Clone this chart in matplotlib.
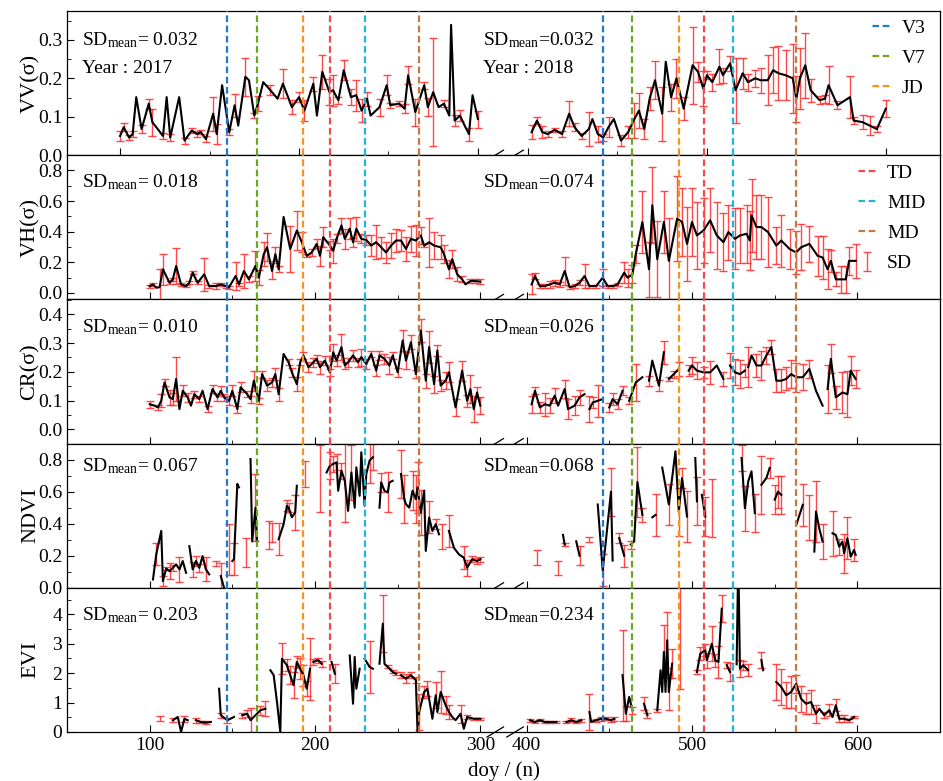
import numpy as np
import matplotlib.pyplot as plt
from matplotlib.lines import Line2D
from matplotlib.transforms import blended_transform_factory

nan = np.nan

# ---------------- data: day of year, mean value, SD (nan = missing) ----------------
# VV
vv17_doy = [100, 102, 105, 107, 109, 112, 116, 118, 124, 126, 128, 133, 136, 140, 143, 145, 148, 152, 154, 157,
            161, 164, 166, 170, 172, 175, 177, 180, 184, 188, 191, 196, 200, 203, 208, 210, 213, 217, 219, 222,
            225, 229, 232, 235, 238, 240, 245, 249, 251, 256, 259, 261, 265, 270, 272, 275, 278, 281, 284, 285,
            287, 290, 293, 295, 297, 300]
vv17_val = [0.050, 0.073, 0.046, 0.055, 0.151, 0.068, 0.134, 0.086, 0.050, 0.151, 0.046, 0.151, 0.038, 0.064, 0.055,
            0.060, 0.042, 0.108, 0.055, 0.182, 0.060, 0.130, 0.077, 0.204, 0.195, 0.103, 0.134, 0.190, 0.169, 0.147,
            0.186, 0.125, 0.151, 0.116, 0.186, 0.103, 0.217, 0.164, 0.169, 0.143, 0.221, 0.151, 0.156, 0.116, 0.147,
            0.103, 0.125, 0.182, 0.130, 0.134, 0.121, 0.208, 0.112, 0.182, 0.125, 0.164, 0.125, 0.134, 0.103, 0.339,
            0.090, 0.103, 0.073, 0.055, 0.156, 0.094]
vv17_sd = [0.013, 0.010, 0.007, 0.007, nan, 0.011, 0.013, 0.035, 0.008, nan, 0.010, nan, 0.008, 0.006, 0.008,
           0.006, 0.008, 0.044, 0.027, nan, 0.007, 0.030, nan, 0.050, nan, 0.006, 0.020, nan, 0.013, nan,
           0.037, 0.018, 0.013, 0.028, 0.018, nan, 0.044, 0.033, 0.040, 0.009, 0.026, 0.020, 0.040, 0.030, 0.018,
           nan, 0.022, 0.026, 0.007, 0.007, 0.011, 0.024, 0.035, 0.009, 0.024, 0.140, nan, 0.009, nan, nan,
           0.015, 0.015, nan, 0.017, nan, 0.022]

vv18_doy = [402, 405, 408, 411, 415, 419, 423, 426, 430, 434, 436, 439, 442, 445, 448, 452, 456, 459, 462, 465,
            468, 471, 475, 477, 480, 483, 487, 492, 495, 498, 500, 503, 507, 509, 513, 516, 520, 523, 527, 530,
            534, 537, 540, 544, 548, 550, 552, 555, 558, 563, 566, 568, 573, 580, 582, 587, 591, 595, 600]
vv18_val = [0.060, 0.090, 0.060, 0.055, 0.066, 0.055, 0.108, 0.073, 0.050, 0.068, 0.094, 0.055, 0.046, 0.073, 0.094,
            0.038, 0.060, 0.090, 0.116, 0.068, 0.147, 0.195, 0.108, 0.243, 0.151, 0.200, 0.121, 0.234, 0.217, 0.173,
            0.208, 0.190, 0.230, 0.208, 0.239, 0.169, 0.213, 0.190, 0.200, 0.195, 0.195, 0.221, 0.213, 0.208, 0.200,
            0.147, 0.200, 0.234, 0.169, 0.143, 0.147, 0.182, 0.130, 0.151, 0.090, 0.086, 0.077, 0.068, 0.121]
vv18_sd = [0.018, 0.010, 0.015, 0.008, 0.006, 0.008, 0.033, 0.010, 0.007, 0.045, nan, 0.020, 0.008, 0.026, nan,
           0.015, 0.015, 0.045, 0.045, 0.026, 0.030, 0.050, 0.070, nan, 0.035, 0.050, 0.030, 0.100, 0.026, 0.045,
           0.010, 0.022, 0.045, 0.020, 0.020, 0.085, 0.040, 0.022, 0.022, 0.033, 0.065, 0.060, 0.070, 0.065, 0.090,
           0.060, 0.080, 0.085, 0.030, 0.010, 0.010, 0.050, 0.010, 0.055, 0.010, 0.018, 0.024, 0.008, 0.022]

# VH
vh17_doy = [100, 102, 104, 106, 108, 112, 114, 116, 119, 122, 124, 126, 129, 133, 136, 140, 143, 146, 148, 152,
            154, 157, 160, 164, 166, 169, 171, 174, 176, 178, 181, 185, 189, 192, 195, 198, 201, 203, 205, 209,
            211, 213, 216, 218, 221, 223, 225, 228, 231, 234, 237, 240, 243, 246, 249, 252, 255, 258, 261, 264,
            266, 269, 272, 276, 278, 281, 283, 286, 289, 291, 294, 297, 300]
vh17_val = [0.044, 0.055, 0.033, 0.037, 0.154, 0.066, 0.088, 0.176, 0.055, 0.044, 0.066, 0.132, 0.066, 0.121, 0.044,
            0.044, 0.055, 0.044, 0.037, 0.110, 0.055, 0.143, 0.088, 0.176, 0.099, 0.253, 0.298, 0.143, 0.253, 0.154,
            0.496, 0.287, 0.408, 0.331, 0.242, 0.264, 0.320, 0.242, 0.364, 0.309, 0.275, 0.353, 0.441, 0.353, 0.419,
            0.331, 0.419, 0.353, 0.346, 0.309, 0.331, 0.298, 0.264, 0.309, 0.342, 0.342, 0.287, 0.353, 0.342, 0.375,
            0.309, 0.331, 0.309, 0.298, 0.253, 0.154, 0.220, 0.121, 0.088, 0.055, 0.077, 0.077, 0.073]
vh17_sd = [0.010, 0.008, nan, 0.120, 0.100, 0.010, 0.012, 0.120, 0.010, 0.008, 0.010, 0.010, 0.010, 0.110, 0.010,
           0.020, 0.010, 0.010, 0.010, 0.090, 0.010, 0.110, 0.020, 0.100, 0.050, 0.080, 0.090, 0.050, 0.045, 0.020,
           nan, 0.150, 0.130, 0.065, 0.010, 0.020, 0.030, 0.065, 0.065, 0.030, 0.080, 0.030, 0.050, 0.065, 0.070,
           0.030, 0.080, 0.030, 0.030, 0.070, 0.110, 0.070, 0.070, 0.080, 0.075, 0.070, 0.080, 0.085, 0.100, 0.055,
           0.010, 0.160, 0.090, 0.080, 0.060, 0.060, 0.060, 0.045, 0.020, nan, 0.015, 0.015, 0.015]

vh18_doy = [403, 405, 408, 411, 414, 417, 420, 423, 426, 429, 432, 435, 438, 442, 446, 449, 452, 455, 459, 461,
            464, 466, 470, 474, 476, 479, 483, 486, 491, 494, 497, 500, 503, 507, 511, 515, 519, 522, 526, 529,
            533, 535, 536, 539, 542, 546, 551, 554, 559, 563, 566, 571, 576, 579, 582, 584, 587, 590, 593, 595, 599]
vh18_val = [0.055, 0.110, 0.044, 0.044, 0.055, 0.066, 0.055, 0.143, 0.037, 0.044, 0.066, 0.110, 0.044, 0.044, 0.099,
            0.044, 0.044, 0.055, 0.132, 0.099, 0.121, 0.253, 0.463, 0.154, 0.573, 0.220, 0.463, 0.209, 0.485, 0.463,
            0.320, 0.463, 0.375, 0.408, 0.474, 0.375, 0.331, 0.397, 0.353, 0.375, 0.386, 0.342, 0.507, 0.430, 0.430,
            0.397, 0.309, 0.342, 0.287, 0.264, 0.298, 0.320, 0.242, 0.231, 0.154, 0.209, 0.088, 0.088, 0.088, 0.209,
            0.209]
vh18_sd = [0.065, 0.020, 0.015, 0.015, 0.025, 0.020, 0.015, 0.090, 0.010, 0.015, 0.015, 0.080, 0.010, 0.010, 0.055,
           0.010, 0.010, 0.010, 0.070, 0.060, 0.060, 0.060, 0.200, 0.180, 0.250, 0.250, 0.200, 0.280, 0.280, 0.220,
           0.240, 0.220, 0.220, 0.210, 0.210, 0.220, 0.190, 0.180, 0.200, 0.180, 0.190, 0.190, 0.240, 0.210, 0.210,
           0.230, 0.120, 0.170, 0.130, 0.140, 0.150, 0.120, 0.130, 0.140, 0.130, 0.070, 0.045, 0.090, 0.090, 0.090,
           0.110]

# CR
cr17_doy = [100, 103, 105, 107, 109, 112, 114, 116, 118, 120, 123, 125, 127, 130, 132, 135, 138, 141, 143, 145,
            148, 150, 153, 155, 159, 161, 163, 166, 168, 171, 174, 176, 178, 181, 184, 186, 189, 191, 193, 196,
            199, 201, 203, 206, 209, 211, 213, 216, 218, 220, 223, 226, 228, 231, 234, 237, 239, 242, 245, 247,
            250, 253, 255, 258, 261, 264, 267, 269, 272, 274, 276, 279, 281, 285, 289, 292, 294, 296, 298, 300]
cr17_val = [0.087, 0.082, 0.076, 0.099, 0.163, 0.111, 0.105, 0.175, 0.070, 0.134, 0.111, 0.082, 0.122, 0.105, 0.134,
            0.070, 0.140, 0.111, 0.134, 0.111, 0.099, 0.134, 0.070, 0.146, 0.122, 0.105, 0.169, 0.099, 0.192, 0.152,
            0.163, 0.192, 0.122, 0.262, 0.233, 0.198, 0.157, 0.233, 0.257, 0.216, 0.233, 0.245, 0.216, 0.239, 0.198,
            0.268, 0.239, 0.286, 0.222, 0.233, 0.257, 0.233, 0.251, 0.227, 0.262, 0.204, 0.257, 0.245, 0.222, 0.257,
            0.198, 0.309, 0.239, 0.303, 0.192, 0.344, 0.169, 0.286, 0.157, 0.274, 0.152, 0.169, 0.198, 0.076, 0.204,
            0.099, 0.140, 0.070, 0.128, 0.082]
cr17_sd = [0.012, nan, 0.010, 0.022, 0.012, 0.025, 0.020, 0.075, nan, 0.020, 0.015, nan, 0.012, 0.010, nan,
           0.010, 0.015, 0.012, 0.018, 0.012, 0.015, 0.020, 0.012, 0.018, 0.010, 0.012, 0.035, 0.010, 0.012, 0.018,
           0.015, 0.020, 0.022, nan, 0.010, 0.015, 0.025, 0.010, 0.012, 0.018, 0.015, 0.015, 0.022, 0.015, 0.012,
           0.030, 0.018, 0.045, 0.012, 0.015, 0.020, 0.015, 0.030, 0.018, 0.012, 0.020, 0.015, 0.018, 0.030, 0.012,
           0.015, 0.035, 0.030, 0.025, 0.015, 0.040, 0.025, 0.055, 0.030, 0.020, 0.018, 0.030, 0.035, 0.030, 0.035,
           0.020, 0.050, 0.045, 0.020, 0.030]

cr18_doy = [403, 405, 408, 411, 414, 417, 419, 423, 425, 429, 432, 435, 437, 438, 440, 443, 446, 448, 450, 452,
            455, 458, 460, 462, 466, 470, 472, 474, 476, 480, 483, 485, 486, 489, 492, 495, 498, 500, 503, 507,
            511, 515, 519, 521, 523, 526, 529, 532, 533, 534, 536, 539, 542, 545, 548, 551, 554, 557, 560, 563,
            567, 571, 575, 579, 581, 582, 584, 587, 591, 594, 596, 599]
cr18_val = [0.087, 0.134, 0.076, 0.087, 0.082, 0.117, 0.082, 0.140, 0.070, 0.082, 0.111, 0.122, nan, 0.070, 0.093,
            0.099, 0.105, nan, 0.076, 0.105, 0.087, 0.134, nan, 0.099, 0.163, 0.181, nan, 0.169, 0.239, 0.152,
            0.268, nan, 0.175, 0.192, 0.210, nan, 0.204, 0.222, 0.204, 0.198, 0.198, 0.222, 0.175, nan, 0.222,
            0.198, 0.192, 0.204, nan, 0.216, 0.257, 0.222, 0.222, 0.257, 0.286, 0.169, 0.169, 0.175, 0.192, 0.181,
            0.181, 0.210, 0.134, 0.082, nan, 0.140, 0.245, 0.111, 0.128, 0.122, 0.204, 0.175]
cr18_sd = [0.030, 0.012, 0.020, 0.040, 0.026, 0.026, nan, 0.030, 0.035, 0.032, 0.026, nan, nan, 0.045, 0.020,
           0.055, nan, nan, 0.015, 0.020, 0.018, 0.015, nan, 0.012, 0.065, nan, nan, 0.018, nan, 0.018,
           0.040, nan, 0.006, 0.012, 0.023, nan, 0.018, 0.029, 0.030, 0.018, 0.040, nan, 0.023, nan, 0.045,
           0.045, 0.050, 0.023, nan, 0.070, nan, 0.040, 0.050, 0.030, 0.024, 0.040, 0.040, 0.040, 0.050, 0.050,
           0.045, 0.030, nan, nan, nan, 0.085, 0.050, 0.040, 0.070, 0.080, 0.050, 0.030]

# NDVI
nd17_doy = [102, 104, 107, 108, 110, 112, 114, 116, 118, 120, 122, 123, 124, 126, 128, 130, 132, 134, 136, 138,
            140, 142, 143, 145, 147, 148, 149, 150, 151, 153, 154, 156, 158, 160, 161, 162, 164, 165, 167, 172,
            173, 174, 176, 178, 181, 183, 184, 186, 188, 189, 191, 194, 196, 203, 205, 207, 209, 211, 213, 214,
            216, 218, 220, 222, 224, 225, 227, 228, 230, 231, 233, 235, 237, 239, 240, 242, 244, 245, 247, 249,
            252, 254, 255, 257, 259, 261, 262, 264, 266, 267, 269, 271, 273, 275, 276, 277, 279, 281, 284, 287,
            290, 292, 295, 298, 300]
nd17_val = [0.052, 0.210, 0.355, 0.042, 0.120, 0.104, 0.125, 0.146, 0.115, 0.167, 0.094, nan, 0.260, 0.115, 0.167,
            0.125, 0.198, 0.115, 0.084, nan, 0.150, nan, 0.073, 0.000, nan, 0.240, nan, 0.167, 0.178, 0.648,
            0.627, nan, 0.220, nan, 0.804, 0.290, 0.500, 0.290, nan, 0.330, nan, 0.345, nan, 0.303, 0.397,
            0.512, 0.500, 0.440, 0.470, 0.637, nan, 0.710, nan, 0.680, nan, 0.720, 0.762, 0.773, 0.783, 0.606,
            0.731, 0.668, 0.480, 0.720, 0.500, 0.752, 0.574, 0.846, 0.512, 0.710, 0.794, 0.815, nan, 0.500, 0.658,
            0.606, 0.595, 0.658, 0.668, nan, 0.710, 0.553, 0.522, 0.500, 0.606, 0.553, 0.627, 0.470, 0.606, 0.230,
            0.439, 0.355, 0.397, 0.334, nan, 0.320, nan, 0.355, 0.250, 0.209, 0.188, 0.125, 0.178, 0.167, 0.178]
nd17_sd = [nan, 0.070, nan, 0.030, 0.010, 0.050, 0.020, nan, 0.080, nan, nan, nan, nan, 0.045, 0.030,
           0.025, nan, 0.075, nan, nan, 0.015, nan, 0.080, nan, nan, 0.160, nan, nan, 0.100, nan,
           nan, nan, 0.090, nan, nan, nan, 0.210, nan, nan, 0.090, nan, 0.060, nan, 0.100, nan,
           0.035, 0.030, nan, 0.110, nan, nan, 0.080, nan, 0.210, nan, nan, 0.085, 0.050, 0.050, nan,
           0.050, 0.260, nan, 0.170, nan, nan, nan, nan, nan, nan, 0.140, 0.080, nan, nan, 0.060,
           nan, 0.125, nan, nan, nan, 0.150, 0.150, nan, nan, 0.120, 0.150, 0.160, 0.140, nan, nan,
           0.100, nan, 0.030, nan, nan, 0.080, nan, 0.100, nan, nan, 0.070, 0.050, 0.020, 0.020, 0.015]

nd18_doy = [406, 408, 419, 421, 422, 423, 425, 430, 432, 434, 438, 440, 443, 446, 448, 451, 452, 454, 456, 459,
            461, 463, 465, 467, 470, 471, 473, 474, 476, 478, 480, 482, 486, 490, 492, 494, 497, 499, 502, 503,
            505, 506, 508, 510, 512, 514, 521, 523, 530, 532, 534, 536, 538, 540, 542, 545, 547, 549, 550, 552,
            554, 556, 563, 567, 569, 571, 573, 574, 575, 577, 579, 580, 581, 583, 585, 587, 589, 591, 592, 594,
            596, 598, 599]
nd18_val = [0.190, nan, 0.125, nan, 0.330, 0.270, nan, 0.290, 0.200, nan, 0.300, nan, 0.520, 0.110, 0.300,
            0.600, 0.170, nan, 0.310, 0.200, nan, 0.270, 0.290, 0.660, 0.455, nan, 0.680, nan, 0.440, 0.455,
            nan, 0.750, 0.520, 0.852, 0.476, 0.685, 0.445, nan, 0.810, 0.540, nan, 0.580, 0.445, nan, 0.500,
            nan, 0.540, nan, 0.810, 0.497, 0.664, 0.727, 0.466, nan, 0.643, 0.685, 0.748, nan, 0.550, 0.600,
            0.580, nan, 0.390, 0.518, nan, 0.440, nan, 0.226, 0.476, 0.370, 0.288, nan, 0.365, nan, 0.340,
            0.330, 0.257, 0.288, 0.215, 0.309, 0.194, 0.236, 0.205]
nd18_sd = [0.045, nan, 0.045, nan, nan, 0.010, nan, nan, 0.060, nan, 0.015, nan, nan, 0.100, nan,
           0.150, nan, nan, 0.030, 0.070, nan, 0.025, nan, 0.220, 0.045, nan, nan, nan, nan, 0.130,
           nan, nan, 0.130, nan, 0.150, 0.060, 0.160, nan, nan, 0.150, nan, nan, 0.120, nan, 0.180,
           nan, nan, nan, 0.080, 0.140, nan, nan, 0.120, nan, 0.180, nan, 0.060, nan, 0.090, 0.100,
           0.120, nan, nan, 0.130, nan, 0.140, nan, nan, 0.190, nan, 0.110, nan, nan, nan, 0.140,
           nan, 0.050, nan, 0.120, 0.130, nan, 0.070, nan]

# EVI
ev17_doy = [100, 102, 106, 108, 114, 117, 119, 121, 123, 125, 128, 131, 134, 137, 139, 142, 143, 147, 151, 153,
            156, 159, 161, 164, 167, 170, 172, 173, 175, 177, 179, 180, 183, 185, 187, 189, 191, 193, 195, 197,
            198, 199, 202, 204, 206, 210, 212, 214, 221, 223, 224, 225, 227, 228, 230, 233, 235, 237, 239, 241,
            242, 244, 247, 249, 250, 252, 255, 258, 261, 262, 263, 266, 268, 271, 273, 274, 276, 279, 281, 283,
            285, 288, 290, 292, 296, 300]
ev17_val = [0.34, nan, 0.45, nan, 0.40, 0.51, 0.00, 0.45, 0.40, nan, 0.40, 0.34, 0.32, 0.34, nan,
            1.47, 0.57, 0.40, 0.51, nan, 0.57, 0.62, 0.40, 0.57, 0.74, 0.79, nan, 2.10, 1.93, 1.02,
            0.00, 2.49, 2.27, 1.93, 1.59, 2.38, 2.15, 1.93, 1.47, 2.15, nan, 2.38, 2.44, 2.32, nan,
            2.38, 1.98, nan, 2.60, 0.96, 2.55, 1.47, 2.15, nan, 2.49, 2.21, 2.15, nan, 2.32, 3.68,
            2.32, 2.21, 2.04, 1.98, nan, 1.93, 1.81, 1.93, 1.76, 0.00, 0.68, 1.36, 1.47, 0.45, 1.25,
            0.68, 1.36, 0.91, 0.68, 0.51, 0.40, 0.62, 0.11, 0.51, 0.45, 0.45]
ev17_sd = [nan, nan, 0.08, nan, 0.06, nan, nan, 0.10, nan, nan, 0.08, 0.05, 0.05, nan, nan,
           nan, 0.08, 0.08, nan, nan, 0.08, 0.12, 0.40, nan, 0.15, 0.25, nan, nan, nan, nan,
           nan, 0.52, 0.20, 0.30, 0.45, 0.20, 0.35, 0.35, 0.25, 1.05, nan, 0.10, 0.08, 0.10, nan,
           nan, 0.32, nan, nan, nan, nan, nan, nan, nan, nan, 0.88, nan, nan, nan, 0.96,
           nan, 0.05, 0.05, 0.05, nan, 0.10, 0.15, 0.10, 0.10, nan, 0.60, 0.20, 0.25, nan, 0.45,
           nan, 0.70, 0.30, 0.25, nan, nan, 0.30, nan, 0.06, 0.04, 0.04]

ev18_doy = [402, 405, 408, 411, 414, 418, 421, 424, 427, 430, 433, 436, 438, 439, 442, 445, 448, 451, 453, 455,
            458, 460, 462, 464, 467, 471, 473, 476, 479, 481, 482, 483, 484, 485, 486, 488, 490, 493, 495, 503,
            505, 508, 509, 512, 514, 516, 518, 520, 521, 523, 525, 527, 528, 529, 531, 534, 536, 537, 539, 542,
            543, 545, 547, 549, 551, 554, 557, 560, 563, 566, 569, 572, 575, 577, 580, 583, 585, 587, 589, 592,
            595, 598]
ev18_val = [0.40, 0.34, 0.40, 0.34, 0.34, 0.34, nan, 0.34, 0.40, 0.34, 0.40, nan, 0.68, 0.34, 0.40,
            0.45, 0.45, 0.40, 0.45, nan, 1.93, 0.62, 1.19, 0.74, nan, 0.96, 0.57, nan, 0.74, 2.10,
            1.36, 2.72, 1.36, 3.12, 1.36, 2.32, nan, 3.20, nan, 2.04, 2.66, 2.78, 2.44, 3.00, 2.44,
            2.38, 4.19, nan, 2.27, 2.04, nan, 2.30, 6.00, 2.15, 2.27, 2.10, nan, 1.80, nan, 2.44,
            2.10, nan, 1.45, nan, 1.70, 1.53, 1.25, 1.36, 1.64, 1.13, 0.96, 1.02, 0.62, 0.79, 0.57,
            0.74, 0.51, 0.91, 0.45, 0.45, 0.40, 0.51]
ev18_sd = [0.05, 0.05, 0.04, 0.05, 0.04, 0.04, nan, 0.05, 0.06, 0.05, 0.05, nan, 0.62, nan, 0.05,
           0.06, 0.05, 0.05, 0.06, nan, 1.55, 0.25, nan, 0.12, nan, 0.22, 0.08, nan, 0.05, nan,
           nan, 0.90, nan, 0.95, 0.60, 0.50, nan, 1.73, nan, 0.08, 0.22, 0.20, 0.25, 0.60, 0.22,
           0.55, 0.45, nan, 0.10, 0.30, nan, nan, nan, 0.28, 0.15, 0.20, nan, nan, nan, 0.28,
           nan, nan, nan, nan, 0.60, 0.60, 0.45, 0.55, 0.30, 0.45, 0.35, 0.40, 0.30, nan, 0.10,
           0.20, nan, 0.20, 0.12, 0.12, 0.05, 0.05]

# crop stages (doy)
stage_names = ['V3', 'V7', 'JD', 'TD', 'MID', 'MD']
stage_2017 = [147, 165, 193, 209, 230, 263]
stage_2018 = [446, 464, 492, 507, 525, 563]
stage_colors = ['#1f78d2', '#6aa823', '#f7941d', '#f24a4a', '#22b5dc', '#c27a40']

ylabels = ['VV(σ)', 'VH(σ)', 'CR(σ)', 'NDVI', 'EVI']
sd_2017 = ['0.032', '0.018', '0.010', '0.067', '0.203']
sd_2018 = ['0.032', '0.074', '0.026', '0.068', '0.234']

# ---------------- style ----------------
plt.rcParams['font.family'] = ['Liberation Serif', 'DejaVu Serif']
plt.rcParams['mathtext.fontset'] = 'custom'
plt.rcParams['mathtext.rm'] = 'Liberation Serif'
plt.rcParams['mathtext.it'] = 'Liberation Serif:italic'
plt.rcParams['font.size'] = 14
plt.rcParams['axes.linewidth'] = 0.9

GAP = 28  # compressed width of the 300-400 break


def fx(d):
    d = np.asarray(d, dtype=float)
    return np.where(d > 350, d - 100 + GAP, d)


series = [
    (vv17_doy, vv17_val, vv17_sd, vv18_doy, vv18_val, vv18_sd),
    (vh17_doy, vh17_val, vh17_sd, vh18_doy, vh18_val, vh18_sd),
    (cr17_doy, cr17_val, cr17_sd, cr18_doy, cr18_val, cr18_sd),
    (nd17_doy, nd17_val, nd17_sd, nd18_doy, nd18_val, nd18_sd),
    (ev17_doy, ev17_val, ev17_sd, ev18_doy, ev18_val, ev18_sd),
]
ylims = [(0, 0.375), (-0.043, 0.9), (-0.05, 0.452), (0, 0.9), (0, 4.9)]
ymajor = [0.1, 0.2, 0.1, 0.2, 1.0]
yfmt = ['%.1f', '%.1f', '%.1f', '%.1f', '%d']
text_y = [0.80, 0.81, 0.805, 0.847, 0.81]

fig = plt.figure(figsize=(9.43, 7.81), dpi=100)
left, width = 67 / 943, 873 / 943
top, bottom = 1 - 11 / 781, 1 - 732 / 781
h = (top - bottom) / 5
axes = [fig.add_axes([left, top - (i + 1) * h, width, h]) for i in range(5)]
base = axes[4]

for i, ax in enumerate(axes):
    d17, v17, s17, d18, v18, s18 = series[i]
    for d, v, s in [(d17, v17, s17), (d18, v18, s18)]:
        ax.errorbar(fx(d), v, yerr=s, fmt='none', ecolor='#ff2a2a', elinewidth=1.0,
                    capsize=2.6, capthick=1.0, alpha=0.85, zorder=2,
                    label='SD' if (i == 1 and d is d17) else None)
        ax.plot(fx(d), v, color='black', lw=1.5, zorder=3)

    if i == 0:
        ax.set_xlim(70.3, 558.3)   # top panel was stretched in the original
    else:
        ax.set_xlim(50, 578)
    ax.set_ylim(*ylims[i])
    yt = np.arange(0, ylims[i][1] + 1e-9, ymajor[i])
    ax.set_yticks(yt)
    ax.set_yticklabels([yfmt[i] % t for t in yt])
    ax.set_yticks(np.arange(ymajor[i] / 2, ylims[i][1], ymajor[i]), minor=True)
    ax.set_xticks(fx([100, 200, 300, 400, 500, 600]))
    ax.set_xticks(fx([150, 250, 450, 550]), minor=True)
    ax.tick_params(which='both', direction='in', top=False, right=False, labelsize=14)
    ax.tick_params(which='major', length=5)
    ax.tick_params(which='minor', length=3)
    if i < 4:
        ax.tick_params(labelbottom=False)
    else:
        ax.set_xticklabels(['100', '200', '300', '400', '500', '600'])
        ax.set_xlabel('doy / (n)', fontsize=15, labelpad=5)
    ax.set_ylabel(ylabels[i], fontsize=16)
    ax.yaxis.set_label_coords(-0.031, 0.5)

    # stage lines (positioned with the lower panels' x scale)
    tr = blended_transform_factory(base.transData, ax.transAxes)
    for c, x1, x2 in zip(stage_colors, stage_2017, stage_2018):
        for x in (x1, x2):
            ax.plot(fx([x, x]), [0, 1], transform=tr, color=c, lw=1.6,
                    ls=(0, (3, 1.6)), zorder=4, clip_on=False)

    # axis break marks
    for c in (309, 321):
        ax.plot([c - 5, c + 5], [-0.035, 0.035], transform=tr, color='black',
                lw=0.9, clip_on=False, zorder=6)

    ax.text(0.017, text_y[i], r'SD$_{\mathrm{mean}}$= ' + sd_2017[i], transform=ax.transAxes,
            va='center', fontsize=14)
    ax.text(0.477, text_y[i], r'SD$_{\mathrm{mean}}$=' + sd_2018[i], transform=ax.transAxes,
            va='center', fontsize=14)

axes[0].text(0.017, 0.60, 'Year : 2017', transform=axes[0].transAxes, va='center', fontsize=14)
axes[0].text(0.477, 0.60, 'Year : 2018', transform=axes[0].transAxes, va='center', fontsize=14)

handles = [Line2D([0], [0], color=c, lw=1.6, ls=(3.5, (3, 1.6))) for c in stage_colors]
leg_kw = dict(loc='upper right', frameon=False, fontsize=14, handlelength=1.15,
              labelspacing=0.64, borderaxespad=0.0, handletextpad=0.45)
axes[0].legend(handles[:3], stage_names[:3], bbox_to_anchor=(0.992, 0.995), **leg_kw)
sd_handle = axes[1].get_legend_handles_labels()[0][0]
axes[1].legend(handles[3:] + [sd_handle], stage_names[3:] + ['SD'],
               bbox_to_anchor=(0.992, 0.99), **leg_kw)

fig.savefig('out.png', dpi=100)
